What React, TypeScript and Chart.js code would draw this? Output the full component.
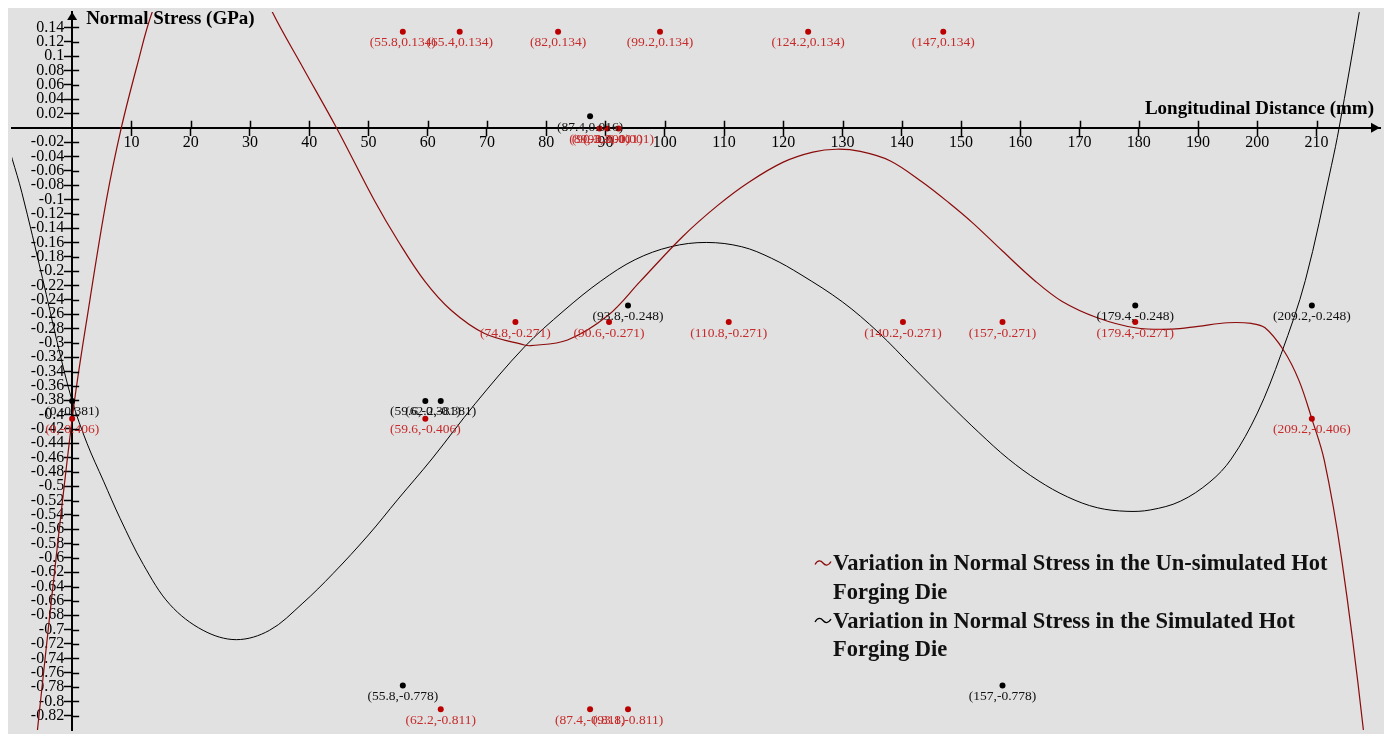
import React, { useEffect, useRef } from "react";
import { Chart, registerables } from "chart.js";

Chart.register(...registerables);

const SERIF = "'Liberation Serif', 'Times New Roman', Times, serif";

// ---------- data ----------
const xTickValues = [10, 20, 30, 40, 50, 60, 70, 80, 90, 100, 110, 120, 130, 140, 150, 160, 170, 180, 190, 200, 210];
const yTickValues = [
  0.14, 0.12, 0.1, 0.08, 0.06, 0.04, 0.02,
  -0.02, -0.04, -0.06, -0.08, -0.1, -0.12, -0.14, -0.16, -0.18, -0.2,
  -0.22, -0.24, -0.26, -0.28, -0.3, -0.32, -0.34, -0.36, -0.38, -0.4,
  -0.42, -0.44, -0.46, -0.48, -0.5, -0.52, -0.54, -0.56, -0.58, -0.6,
  -0.62, -0.64, -0.66, -0.68, -0.7, -0.72, -0.74, -0.76, -0.78, -0.8, -0.82,
];

const xAxisTitle = "Longitudinal Distance (mm)";
const yAxisTitle = "Normal Stress (GPa)";

const unsimLabel = ["Variation in Normal Stress in the Un-simulated Hot", "Forging Die"];
const simLabel = ["Variation in Normal Stress in the Simulated Hot", "Forging Die"];

// Un-simulated (red) trend curve
const redCurveX = [-11, -5.6, 0, 3, 5.8, 8.3, 11, 13.5, 18, 23.6, 29, 33.8, 39, 44.6, 51.1, 55, 59.5, 64, 69.6, 76.3, 77.4, 83.6, 90.4, 95.9, 103, 109, 114.2, 120, 125, 129, 133, 138, 143.5, 148, 152, 157, 162.4, 167, 173, 179.4, 185.6, 190, 195, 199, 201.3, 204.4, 207, 209.2, 211.3, 214.2, 217.9, 221];
const redCurveY = [-1.25, -0.82, -0.406, -0.24, -0.1, 0, 0.088, 0.161, 0.247, 0.285, 0.25, 0.161, 0.083, 0, -0.103, -0.158, -0.214, -0.255, -0.287, -0.303, -0.304, -0.296, -0.262, -0.214, -0.152, -0.108, -0.076, -0.048, -0.034, -0.03, -0.033, -0.046, -0.076, -0.105, -0.133, -0.172, -0.213, -0.242, -0.265, -0.279, -0.281, -0.277, -0.272, -0.273, -0.279, -0.31, -0.352, -0.406, -0.464, -0.6, -0.84, -1.1];

// Simulated (black) trend curve
const blackCurveX = [-11, -10.1, -8.5, -5, -2.5, 0, 2.5, 5.3, 8.1, 12, 16.5, 22.1, 27.7, 33.3, 38.8, 44, 50, 55, 60.7, 68, 76.3, 83, 89.2, 95, 101, 107, 113, 118, 123, 130, 136, 142, 148, 153, 158, 163, 168, 173, 178, 182, 187, 192, 195.6, 200, 204, 208.1, 212.5, 213.8, 217.2, 221];
const blackCurveY = [-0.02, -0.044, -0.09, -0.21, -0.3, -0.381, -0.44, -0.493, -0.545, -0.609, -0.665, -0.701, -0.714, -0.701, -0.664, -0.622, -0.568, -0.518, -0.462, -0.385, -0.306, -0.255, -0.214, -0.184, -0.166, -0.16, -0.166, -0.182, -0.205, -0.243, -0.285, -0.335, -0.385, -0.425, -0.462, -0.492, -0.515, -0.53, -0.535, -0.533, -0.521, -0.494, -0.462, -0.398, -0.316, -0.213, -0.053, 0, 0.161, 0.36];

// Labelled points
const redPointX = [55.8, 65.4, 82, 99.2, 124.2, 147, 89, 90.3, 92.2, 74.8, 90.6, 110.8, 140.2, 157, 179.4, 0, 59.6, 209.2, 62.2, 87.4, 93.8];
const redPointY = [0.134, 0.134, 0.134, 0.134, 0.134, 0.134, -0.001, -0.001, -0.001, -0.271, -0.271, -0.271, -0.271, -0.271, -0.271, -0.406, -0.406, -0.406, -0.811, -0.811, -0.811];
const blackPointX = [87.4, 93.8, 179.4, 209.2, 0, 59.6, 62.2, 55.8, 157];
const blackPointY = [0.016, -0.248, -0.248, -0.248, -0.381, -0.381, -0.381, -0.778, -0.778];

const X_MIN = -10.15;
const X_MAX = 220.7;
const Y_MIN = -0.84;
const Y_MAX = 0.1614;

const BG = "#e1e1e1";
const RED_LINE = "#8b0a0a";
const RED_DOT = "#bb0000";
const RED_TEXT = "#c62a2a";

const zip = (xs: number[], ys: number[]) => xs.map((x, i) => ({ x, y: ys[i] }));

const bgPlugin = {
  id: "bgFill",
  beforeDraw(chart: any) {
    const { ctx, width, height } = chart;
    ctx.save();
    ctx.fillStyle = BG;
    ctx.fillRect(0, 0, width, height);
    ctx.restore();
  },
};

const pointLabelPlugin = {
  id: "pointLabels",
  afterDatasetsDraw(chart: any) {
    const { ctx } = chart;
    const xs = chart.scales.x;
    const ys = chart.scales.y;
    ctx.save();
    ctx.font = `13.5px ${SERIF}`;
    ctx.textAlign = "center";
    ctx.textBaseline = "middle";
    chart.data.datasets.forEach((ds: any) => {
      if (!ds.pointTextColor) return;
      ctx.fillStyle = ds.pointTextColor;
      ds.data.forEach((p: any) => {
        const px = xs.getPixelForValue(p.x);
        const py = ys.getPixelForValue(p.y);
        ctx.fillText(`(${p.x},${p.y})`, px, py + 11);
      });
    });
    ctx.restore();
  },
};

function drawTilde(ctx: CanvasRenderingContext2D, x: number, y: number, color: string) {
  ctx.save();
  ctx.strokeStyle = color;
  ctx.lineWidth = 1.3;
  ctx.beginPath();
  ctx.moveTo(x, y + 1.5);
  ctx.bezierCurveTo(x + 3, y - 3.5, x + 6, y - 2.5, x + 8, y);
  ctx.bezierCurveTo(x + 10, y + 2.5, x + 13, y + 3.5, x + 16, y - 1.5);
  ctx.stroke();
  ctx.restore();
}

const axisDecorPlugin = {
  id: "axisDecor",
  afterDraw(chart: any) {
    const { ctx, chartArea } = chart;
    const xs = chart.scales.x;
    const ys = chart.scales.y;
    const ox = xs.getPixelForValue(0);
    const oy = ys.getPixelForValue(0);
    ctx.save();
    ctx.strokeStyle = "#000";
    ctx.lineWidth = 1.5;
    // tick marks on the other side of each axis
    ctx.beginPath();
    xTickValues.forEach((v) => {
      const px = Math.round(xs.getPixelForValue(v)) + 0.5;
      ctx.moveTo(px, oy - 7);
      ctx.lineTo(px, oy);
    });
    yTickValues.forEach((v) => {
      const py = Math.round(ys.getPixelForValue(v)) + 0.5;
      ctx.moveTo(ox, py);
      ctx.lineTo(ox + 7, py);
    });
    ctx.stroke();
    // arrows
    ctx.fillStyle = "#000";
    ctx.beginPath();
    ctx.moveTo(ox, chartArea.top);
    ctx.lineTo(ox - 5, chartArea.top + 8);
    ctx.lineTo(ox + 5, chartArea.top + 8);
    ctx.closePath();
    ctx.fill();
    ctx.beginPath();
    ctx.moveTo(chartArea.right, oy);
    ctx.lineTo(chartArea.right - 9, oy - 5);
    ctx.lineTo(chartArea.right - 9, oy + 5);
    ctx.closePath();
    ctx.fill();
    // axis titles
    ctx.font = `bold 19px ${SERIF}`;
    ctx.textBaseline = "alphabetic";
    ctx.textAlign = "left";
    ctx.fillText(yAxisTitle, ox + 14, 15.5);
    ctx.textAlign = "right";
    ctx.fillText(xAxisTitle, chartArea.right - 6, oy - 14);
    // legend
    const legendX = 825;
    const entries = [
      { lines: unsimLabel, color: chart.data.datasets[0].borderColor, y: 562 },
      { lines: simLabel, color: chart.data.datasets[1].borderColor, y: 619.5 },
    ];
    ctx.font = `bold 22.5px ${SERIF}`;
    ctx.textAlign = "left";
    entries.forEach((e) => {
      drawTilde(ctx, legendX - 18, e.y - 7, e.color);
      ctx.fillStyle = "#111";
      e.lines.forEach((t, i) => ctx.fillText(t, legendX, e.y + i * 28.5));
    });
    ctx.restore();
  },
};

export default function App() {
  const ref = useRef<HTMLCanvasElement>(null);
  useEffect(() => {
    const canvas = ref.current;
    if (!canvas) return;
    const chart = new Chart(canvas, {
      type: "scatter",
      data: {
        datasets: [
          {
            label: unsimLabel.join(" "),
            data: zip(redCurveX, redCurveY),
            showLine: true,
            borderColor: RED_LINE,
            borderWidth: 1.2,
            pointRadius: 0,
            tension: 0.35,
            order: 2,
          } as any,
          {
            label: simLabel.join(" "),
            data: zip(blackCurveX, blackCurveY),
            showLine: true,
            borderColor: "#000000",
            borderWidth: 1,
            pointRadius: 0,
            tension: 0.35,
            order: 3,
          } as any,
          {
            label: "Un-simulated points",
            data: zip(redPointX, redPointY),
            showLine: false,
            pointRadius: 3,
            pointBorderWidth: 0,
            backgroundColor: RED_DOT,
            borderColor: RED_DOT,
            pointTextColor: RED_TEXT,
            order: 1,
          } as any,
          {
            label: "Simulated points",
            data: zip(blackPointX, blackPointY),
            showLine: false,
            pointRadius: 3,
            pointBorderWidth: 0,
            backgroundColor: "#000",
            borderColor: "#000",
            pointTextColor: "#111",
            order: 0,
          } as any,
        ],
      },
      options: {
        animation: false,
        responsive: false,
        layout: { padding: 0 },
        plugins: { legend: { display: false }, tooltip: { enabled: false } },
        scales: {
          x: {
            type: "linear",
            min: X_MIN,
            max: X_MAX,
            position: { y: 0 } as any,
            afterBuildTicks: (s: any) => {
              s.ticks = xTickValues.map((v) => ({ value: v }));
            },
            afterFit: (s: any) => {
              s.paddingLeft = 0;
              s.paddingRight = 0;
              s.paddingTop = 0;
              s.paddingBottom = 0;
            },
            ticks: {
              autoSkip: false,
              maxRotation: 0,
              padding: -2,
              color: "#000",
              font: { family: SERIF, size: 16 },
              callback: (v: any) => String(v),
            },
            grid: { drawOnChartArea: false, drawTicks: true, tickLength: 7, tickWidth: 1.5, tickColor: "#000" },
            border: { display: true, color: "#000", width: 2 },
          },
          y: {
            type: "linear",
            min: Y_MIN,
            max: Y_MAX,
            position: { x: 0 } as any,
            afterBuildTicks: (s: any) => {
              s.ticks = yTickValues.map((v) => ({ value: v }));
            },
            afterFit: (s: any) => {
              s.paddingLeft = 0;
              s.paddingRight = 0;
              s.paddingTop = 0;
              s.paddingBottom = 0;
            },
            ticks: {
              autoSkip: false,
              padding: 0,
              color: "#000",
              font: { family: SERIF, size: 16 },
              callback: (v: any) => String(v) + "\u2002",
            },
            grid: { drawOnChartArea: false, drawTicks: true, tickLength: 7, tickWidth: 1.5, tickColor: "#000" },
            border: { display: true, color: "#000", width: 2 },
          },
        },
      },
      plugins: [bgPlugin, pointLabelPlugin, axisDecorPlugin],
    } as any);
    return () => chart.destroy();
  }, []);
  return (
    <div style={{ position: "fixed", left: 8, top: 8, width: 1376, height: 726 }}>
      <canvas ref={ref} width={1376} height={726} style={{ display: "block", width: 1376, height: 726 }} />
    </div>
  );
}
